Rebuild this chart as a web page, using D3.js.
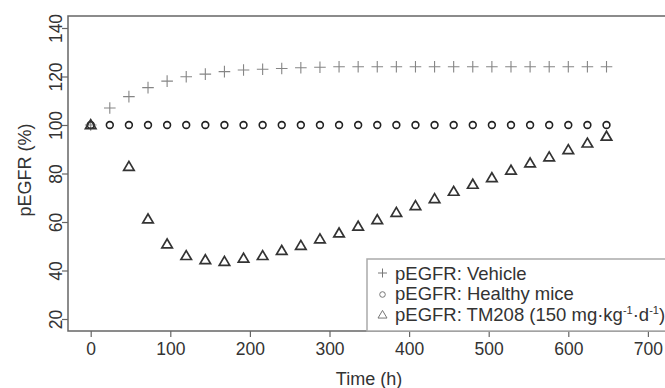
<!DOCTYPE html>
<html>
<head>
<meta charset="utf-8">
<script src="https://cdn.jsdelivr.net/npm/d3@7"></script>
<style>
  body { margin: 0; background: #fff; }
  text { font-family: "Liberation Sans", Arial, sans-serif; fill: #333; }
</style>
</head>
<body>
<div id="chart"></div>
<script>
// time points (h)
const hours = [0,24,48,72,96,120,144,168,192,216,240,264,288,312,336,360,384,408,432,456,480,504,528,552,576,600,624,648];
const vehicle = [100,107,111.7,115.4,118.1,119.9,121,122,122.7,123,123.3,123.6,123.8,124,124,124,124,124,124,124,124,124,124,124,124,124,124,124];
const healthy = [100,100,100,100,100,100,100,100,100,100,100,100,100,100,100,100,100,100,100,100,100,100,100,100,100,100,100,100];
const tmHours = [0,48,72,96,120,144,168,192,216,240,264,288,312,336,360,384,408,432,456,480,504,528,552,576,600,624,648];
const tm208 = [100,82.8,61.1,50.8,46,44.3,43.6,44.9,46,48.1,50.2,52.9,55.3,58.1,60.8,63.8,66.6,69.5,72.5,75.4,78.1,81.2,84.2,86.7,89.7,92.4,95.2];
const xTicks = [0,100,200,300,400,500,600,700];
const yTicks = [20,40,60,80,100,120,140];

const width = 665, height = 388;
const margin = {left:68, right:-3, top:16, bottom:57};

const svg = d3.select("#chart").append("svg")
    .attr("width",width)
    .attr("height",height);

const xScale = d3.scaleLinear()
    .domain([0,100])
    .range([90.7,170.3]);
const yScale = d3.scaleLinear()
    .domain([100,120])
    .range([125,76.5]);

const plotBottom = height - margin.bottom;

//frame
svg.append("rect")
    .attr("x",margin.left).attr("y",margin.top)
    .attr("width",width - margin.right - margin.left)
    .attr("height",plotBottom - margin.top)
    .attr("fill","none").attr("stroke","#666").attr("stroke-width",1.5);

//x axis
const xAxis = svg.append("g")
    .attr("transform",`translate(0,${plotBottom})`)
    .call(d3.axisBottom(xScale).tickValues(xTicks).tickSize(6).tickPadding(6));
xAxis.select(".domain").remove();
xAxis.selectAll("line").attr("stroke","#666").attr("stroke-width",1.2);
xAxis.selectAll("text").attr("font-size",17.5).attr("fill","#333")
    .attr("font-family","Liberation Sans, Arial, sans-serif");

//y axis with vertical labels
const yAxis = svg.append("g")
    .attr("transform",`translate(${margin.left},0)`)
    .call(d3.axisLeft(yScale).tickValues(yTicks).tickSize(6));
yAxis.select(".domain").remove();
yAxis.selectAll("line").attr("stroke","#666").attr("stroke-width",1.2);
yAxis.selectAll("text")
    .attr("font-size",17.5).attr("fill","#333")
    .attr("font-family","Liberation Sans, Arial, sans-serif")
    .attr("x",null).attr("dy",null)
    .attr("text-anchor","middle")
    .attr("transform","translate(-6,0) rotate(-90)");

//axis titles
svg.append("text")
    .attr("transform",`translate(31,170) rotate(-90)`)
    .attr("text-anchor","middle")
    .attr("font-size",18)
    .text("pEGFR (%)");
svg.append("text")
    .attr("x",369).attr("y",385)
    .attr("text-anchor","middle")
    .attr("font-size",18)
    .text("Time (h)");

function crossPath(x,y,s){ return `M${x-s},${y}h${2*s}M${x},${y-s}v${2*s}`; }
function triPath(x,y,w){ const h = w*0.85; return `M${x},${y-h*0.6}L${x+w/2},${y+h*0.4}L${x-w/2},${y+h*0.4}Z`; }

//vehicle
svg.append("g").selectAll("path")
    .data(hours.map((h,i) => ({t:h, v:vehicle[i]})))
    .join("path")
    .attr("d",d => crossPath(xScale(d.t),yScale(d.v),5.8))
    .attr("stroke","#858585").attr("stroke-width",1.1).attr("fill","none");

//healthy
svg.append("g").selectAll("circle")
    .data(hours.map((h,i) => ({t:h, v:healthy[i]})))
    .join("circle")
    .attr("cx",d => xScale(d.t)).attr("cy",d => yScale(d.v))
    .attr("r",3.4)
    .attr("stroke","#222").attr("stroke-width",1.6).attr("fill","none");

//TM208
svg.append("g").selectAll("path")
    .data(tmHours.map((h,i) => ({t:h, v:tm208[i]})))
    .join("path")
    .attr("d",d => triPath(xScale(d.t),yScale(d.v),10.5))
    .attr("stroke","#333").attr("stroke-width",1.7).attr("fill","none")
    .attr("stroke-linejoin","miter");

//legend
const lg = svg.append("g");
lg.append("rect")
    .attr("x",367).attr("y",259)
    .attr("width",310).attr("height",plotBottom - 259)
    .attr("fill","#fff").attr("stroke","#aaa").attr("stroke-width",1.5);

const legendItems = ["vehicle","healthy","tm"];
const rowY = [273,293.5,314];
legendItems.forEach((k,i) => {
    const cx = 382.5, cy = rowY[i];
    if (k === "vehicle") {
        lg.append("path").attr("d",crossPath(cx,cy,4.5))
            .attr("stroke","#777").attr("stroke-width",1).attr("fill","none");
    } else if (k === "healthy") {
        lg.append("circle").attr("cx",cx).attr("cy",cy+1).attr("r",2.8)
            .attr("stroke","#777").attr("stroke-width",1).attr("fill","none");
    } else {
        lg.append("path").attr("d",triPath(cx,cy+1,9))
            .attr("stroke","#777").attr("stroke-width",1).attr("fill","none");
    }
});
lg.append("text").attr("x",395).attr("y",rowY[0]+6.5).attr("font-size",18.5).text("pEGFR: Vehicle");
lg.append("text").attr("x",395).attr("y",rowY[1]+6.5).attr("font-size",18.5).text("pEGFR: Healthy mice");
const t3 = lg.append("text").attr("x",395).attr("y",rowY[2]+6.5).attr("font-size",18.5);
t3.append("tspan").text("pEGFR: TM208 (150 mg·kg");
t3.append("tspan").attr("font-size",11).attr("dy",-7).text("-1");
t3.append("tspan").attr("dy",7).text("·d");
t3.append("tspan").attr("font-size",11).attr("dy",-7).text("-1");
t3.append("tspan").attr("dy",7).text(")");
</script>
</body>
</html>
